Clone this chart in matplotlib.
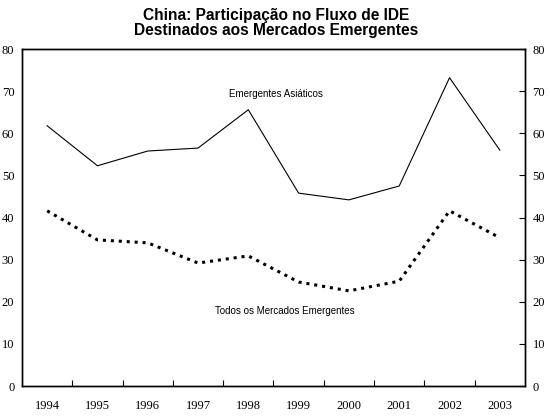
import numpy as np
import matplotlib.pyplot as plt

# data (% share)
anos = ["1994", "1995", "1996", "1997", "1998", "1999", "2000", "2001", "2002", "2003"]
emergentes_asiaticos = [61.8, 52.3, 55.8, 56.5, 65.6, 45.8, 44.2, 47.5, 73.2, 56.0]
todos_emergentes = [41.6, 34.7, 34.0, 29.2, 30.9, 24.7, 22.6, 24.9, 41.6, 35.2]
y_ticks = [0, 10, 20, 30, 40, 50, 60, 70, 80]

fig = plt.figure(figsize=(5.5, 4.16), dpi=100)
ax = fig.add_axes([0.04, 0.072, 0.9145, 0.81])

x = np.arange(len(anos))
ax.plot(x, emergentes_asiaticos, color="black", linewidth=0.8)
ax.plot(x, todos_emergentes, color="black", linewidth=2.2, linestyle=(0, (1, 1.6)))

ax.set_xlim(-0.5, len(anos) - 0.5)
ax.set_ylim(0, 80)

# x ticks sit between categories, labels at category centres
ax.set_xticks(x)
ax.set_xticklabels(anos, family="Liberation Serif", fontsize=9)
ax.set_xticks(np.arange(0.5, len(anos) - 1, 1), minor=True)
ax.tick_params(axis="x", which="major", length=0, pad=10)
ax.tick_params(axis="x", which="minor", direction="in", length=4, width=0.8)

ax.set_yticks(y_ticks)
ax.set_yticklabels([str(v) for v in y_ticks], family="Liberation Serif", fontsize=9)
ax.tick_params(axis="y", length=0, pad=5.5)

ax2 = ax.twinx()
ax2.set_ylim(0, 80)
ax2.set_yticks(y_ticks)
ax2.set_yticklabels([str(v) for v in y_ticks], family="Liberation Serif", fontsize=9)
ax2.tick_params(axis="y", direction="in", length=4, width=0.8, pad=5.5)

for a in (ax, ax2):
    for s in a.spines.values():
        s.set_linewidth(1.0)

ax.text(4.55, 69.4, "Emergentes Asiáticos", family="Liberation Sans", fontsize=7,
        ha="center", va="center")
ax.text(4.73, 17.8, "Todos os Mercados Emergentes", family="Liberation Sans", fontsize=7,
        ha="center", va="center")

fig.text(0.502, 0.945, "China: Participação no Fluxo de IDE\nDestinados aos Mercados Emergentes",
         family="Liberation Sans", fontweight="bold", fontsize=11.2, ha="center", va="center",
         linespacing=1.05)

fig.savefig("out.png", dpi=100)
